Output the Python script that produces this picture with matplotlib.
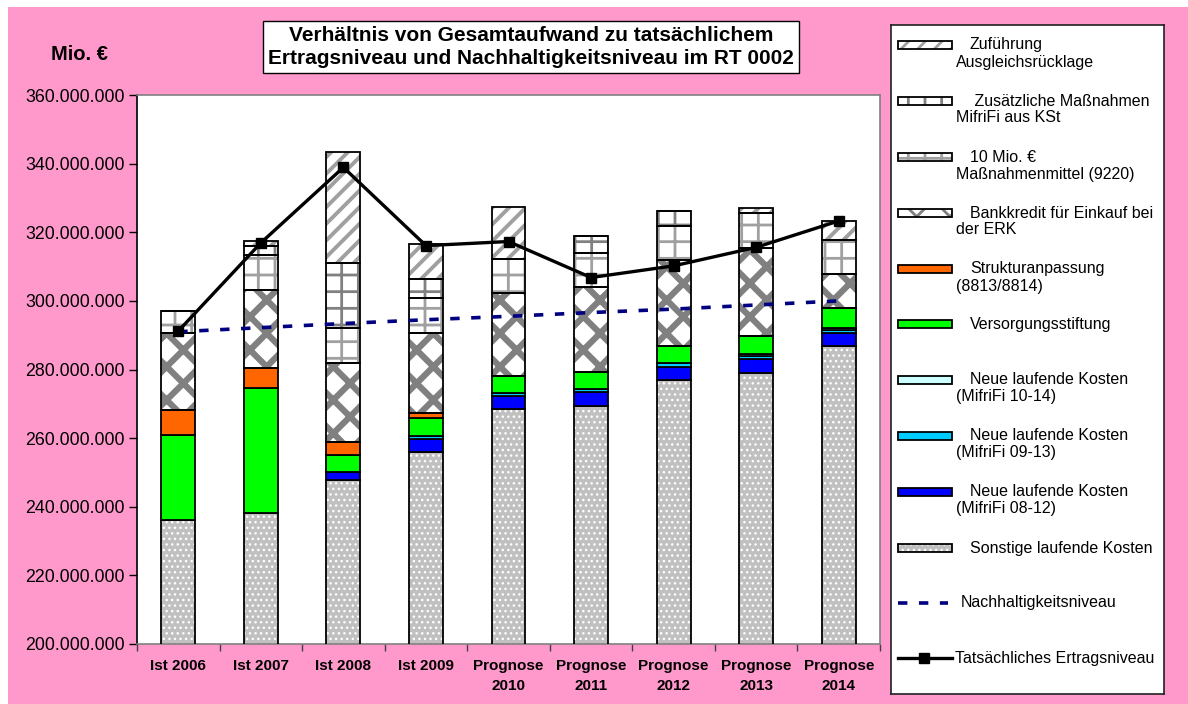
import matplotlib
matplotlib.use('Agg')
import matplotlib.pyplot as plt
from matplotlib.patches import Rectangle
from matplotlib.lines import Line2D
from matplotlib.ticker import FuncFormatter, FixedLocator
import numpy as np

plt.rcParams['font.family'] = ['Liberation Sans', 'DejaVu Sans']

categories = ['Ist 2006', 'Ist 2007', 'Ist 2008', 'Ist 2009', 'Prognose\n2010',
              'Prognose\n2011', 'Prognose\n2012', 'Prognose\n2013', 'Prognose\n2014']

# values in Mio. EUR, stacked from bottom to top
sonstige = [236.0, 238.1, 247.8, 256.0, 268.4, 269.4, 276.9, 279.1, 286.9]
mifrifi_0812 = [0, 0, 2.2, 3.7, 3.9, 4.0, 3.9, 3.9, 3.8]
mifrifi_0913 = [0, 0, 0, 0.9, 0.8, 0.8, 1.0, 1.0, 0.9]
mifrifi_1014 = [0, 0, 0, 0, 0, 0, 0, 0.6, 0.6]
versorgung = [25.0, 36.4, 5.1, 5.2, 5.1, 5.2, 5.1, 5.3, 5.6]
struktur = [7.2, 5.9, 3.7, 1.4, 0, 0, 0, 0, 0]
bankkredit = [22.3, 22.9, 23.2, 23.5, 24.1, 24.6, 25.0, 25.4, 10.1]
massnahmen_10 = [6.6, 10.0, 10.0, 10.0, 10.0, 10.0, 10.0, 10.2, 9.9]
zusaetzlich = [0, 2.8, 19.0, 5.6, 0, 4.8, 4.4, 0, 0]
zufuehrung = [0, 1.4, 32.5, 10.2, 15.1, 0, 0, 1.5, 5.6]

ertragsniveau = [291.2, 316.9, 338.9, 316.1, 317.3, 306.8, 310.2, 315.6, 323.3]
nachhaltigkeit = [291.0, 292.2, 293.4, 294.5, 295.5, 296.6, 297.6, 298.8, 300.0]

labels = ['Sonstige laufende Kosten', 'Neue laufende Kosten\n(MifriFi 08-12)',
          'Neue laufende Kosten\n(MifriFi 09-13)', 'Neue laufende Kosten\n(MifriFi 10-14)',
          'Versorgungsstiftung', 'Strukturanpassung\n(8813/8814)',
          'Bankkredit für Einkauf bei\nder ERK', '10 Mio. €\nMaßnahmenmittel (9220)',
          ' Zusätzliche Maßnahmen\nMifriFi aus KSt', 'Zuführung\nAusgleichsrücklage']
series = [sonstige, mifrifi_0812, mifrifi_0913, mifrifi_1014, versorgung, struktur,
          bankkredit, massnahmen_10, zusaetzlich, zufuehrung]
# (face, hatch, hatch colour, hatch linewidth)
styles = [('#c0c0c0', '...', 'white', 1.0), ('#0000ff', None, 'black', 1),
          ('#00ccff', None, 'black', 1), ('#ccffff', None, 'black', 1),
          ('#00ff00', None, 'black', 1), ('#ff6600', None, 'black', 1),
          ('white', 'x', '#808080', 4.5), ('white', '+', '#a0a0a0', 2.0),
          ('white', '+', '#808080', 2.0), ('white', '//', '#a0a0a0', 2.8)]

pink = '#ff99cc'
fig = plt.figure(figsize=(11.88, 7.04), dpi=100, facecolor='white')
fig.patches.append(Rectangle((8 / 1188, 0), 1, 1 - 7 / 704, transform=fig.transFigure,
                             facecolor=pink, edgecolor='none', zorder=-10))

ax = fig.add_axes([137 / 1188, 60 / 704, 743 / 1188, 549 / 704])
ax.set_facecolor('white')

x = np.arange(len(categories))
w = 0.41
bottom = np.zeros(len(categories))
for vals, (face, hatch, hcol, hlw) in zip(series, styles):
    v = np.array(vals) * 1e6
    if hatch:
        with plt.rc_context({'hatch.linewidth': hlw}):
            ax.bar(x, v, w, bottom=bottom, color=face, edgecolor=hcol, hatch=hatch, linewidth=0, zorder=2)
        ax.bar(x, v, w, bottom=bottom, fill=False, edgecolor='black', linewidth=1.3, zorder=3)
    else:
        ax.bar(x, v, w, bottom=bottom, color=face, edgecolor='black', linewidth=1.3, zorder=3)
    bottom += v

ax.plot(x, np.array(nachhaltigkeit) * 1e6, color='#000080', lw=2.6, ls=(0, (2.6, 3.2)), zorder=4)
ax.plot(x, np.array(ertragsniveau) * 1e6, color='black', lw=2.4, marker='s', ms=7, zorder=5)

ax.set_xlim(-0.5, len(categories) - 0.5)
ax.set_ylim(200e6, 360e6)
ax.set_yticks(np.arange(200e6, 360e6 + 1, 20e6))
ax.yaxis.set_major_formatter(FuncFormatter(lambda v, p: f'{v:,.0f}'.replace(',', '.')))
ax.tick_params(axis='y', labelsize=12.8, length=6, width=1, pad=3)

ax.xaxis.set_major_locator(FixedLocator(np.arange(-0.5, len(categories), 1.0)))
ax.xaxis.set_major_formatter(FuncFormatter(lambda v, p: ''))
ax.set_xticks(x, minor=True)
ax.set_xticklabels(categories, minor=True, fontsize=11, fontweight='bold', linespacing=1.55)
ax.tick_params(axis='x', which='major', length=5, width=1, color='#404040')
ax.tick_params(axis='x', which='minor', length=0, pad=11)

ax.spines['left'].set_color('black')
for s in ['top', 'right', 'bottom']:
    ax.spines[s].set_color('#808080')
for s in ax.spines.values():
    s.set_linewidth(1.2)

fig.text(108 / 1188, 1 - 54 / 704, 'Mio. €', ha='right', va='center', fontsize=14.5, fontweight='bold')
fig.text(531 / 1188, 1 - 47 / 704,
         'Verhältnis von Gesamtaufwand zu tatsächlichem\nErtragsniveau und Nachhaltigkeitsniveau im RT 0002',
         ha='center', va='center', fontsize=15, fontweight='bold', linespacing=1.3,
         bbox=dict(boxstyle='square,pad=0.25', facecolor='white', edgecolor='black', lw=1))

# legend drawn in its own box, pixel coordinates
lg = fig.add_axes([891 / 1188, 10 / 704, 273 / 1188, 669 / 704])
lg.set_xlim(891, 1164)
lg.set_ylim(694, 25)
lg.set_xticks([])
lg.set_yticks([])
for s in lg.spines.values():
    s.set_color('#202020')
    s.set_linewidth(1.2)

row_y = [45, 101, 157, 213, 269, 324, 380, 436, 492, 548]
for i, (lab, (face, hatch, hcol, hlw)) in enumerate(zip(labels[::-1], styles[::-1])):
    y = row_y[i]
    if hatch:
        with plt.rc_context({'hatch.linewidth': min(hlw, 2.0)}):
            lg.add_patch(Rectangle((898, y - 4), 54, 8, facecolor=face, edgecolor=hcol, hatch=hatch, lw=0))
        lg.add_patch(Rectangle((898, y - 4), 54, 8, fill=False, edgecolor='black', lw=1.3))
    else:
        lg.add_patch(Rectangle((898, y - 4), 54, 8, facecolor=face, edgecolor='black', lw=1.3))
    parts = lab.split('\n')
    lg.text(970, y, parts[0], ha='left', va='center', fontsize=11.5)
    if len(parts) > 1:
        lg.text(956, y + 17, parts[1], ha='left', va='center', fontsize=11.5)

lg.add_line(Line2D([898, 948], [603, 603], color='#000080', lw=2.6, ls=(0, (2.6, 3.2))))
lg.text(961, 603, 'Nachhaltigkeitsniveau', ha='left', va='center', fontsize=11.5)
lg.add_line(Line2D([898, 952], [658, 658], color='black', lw=2.4))
lg.add_line(Line2D([924], [658], color='black', marker='s', ms=7))
lg.text(955, 658, 'Tatsächliches Ertragsniveau', ha='left', va='center', fontsize=11.5)

fig.savefig('out.png', dpi=100, facecolor=fig.get_facecolor())
